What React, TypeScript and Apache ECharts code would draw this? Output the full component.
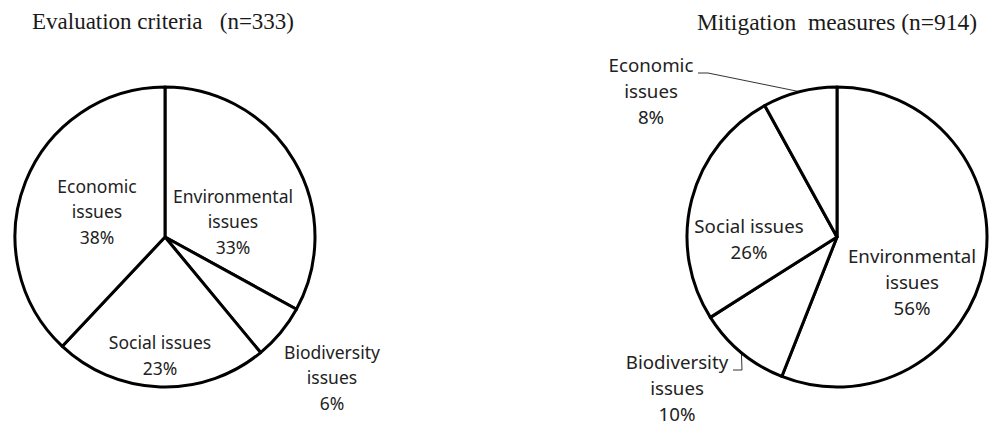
import React, { useEffect, useRef } from "react";
import * as echarts from "echarts";

const LEFT_TITLE = "Evaluation criteria\u00a0\u00a0\u00a0(n=333)";
const RIGHT_TITLE = "Mitigation\u00a0 measures (n=914)";

const LEFT_CATEGORIES = ["Environmental\nissues", "Biodiversity\nissues", "Social issues", "Economic\nissues"];
const LEFT_VALUES = [33, 6, 23, 38];

const RIGHT_CATEGORIES = ["Environmental\nissues", "Biodiversity\nissues", "Social issues", "Economic\nissues"];
const RIGHT_VALUES = [56, 10, 26, 8];

// layout constants (pixels)
const LEFT_CENTER = [165, 237];
const RIGHT_CENTER = [837, 237];
const RADIUS = 150;
const LEFT_LABEL_OFFSETS = [[68, -16], [167, 140], [-5, 118], [-68, -26]];
const RIGHT_LABEL_OFFSETS = [[75, 44], [-160, 150], [-88, 1], [-186, -147]];
const RIGHT_OUTSIDE = [false, true, false, true];
// leader line points near label, relative to pie centre
const RIGHT_LEADERS: Record<number, number[][]> = {
  1: [[-104, 133], [-95, 133]],
  3: [[-139, -164], [-129, -164]],
};

function midEdgePoint(values: number[], idx: number, center: number[], r: number) {
  const total = values.reduce((a, b) => a + b, 0);
  let before = 0;
  for (let i = 0; i < idx; i++) before += values[i];
  const mid = ((before + values[idx] / 2) / total) * Math.PI * 2;
  return [center[0] + r * Math.sin(mid), center[1] - r * Math.cos(mid)];
}

export default function App() {
  const ref = useRef<HTMLDivElement>(null);
  useEffect(() => {
    document.body.style.margin = "0";
    if (!ref.current) return;
    const chart = echarts.init(ref.current, undefined, { renderer: "svg" });
    const baseItem = { color: "#ffffff", borderColor: "#000000", borderWidth: 3 };
    const titleStyle = { fontFamily: "Liberation Serif", fontWeight: "normal" as const, color: "#1a1a1a" };
    chart.setOption({
      animation: false,
      backgroundColor: "#ffffff",
      title: [
        { text: LEFT_TITLE, left: 158, top: 5, textAlign: "center", textStyle: { ...titleStyle, fontSize: 23 } },
        { text: RIGHT_TITLE, left: 832, top: 5, textAlign: "center", textStyle: { ...titleStyle, fontSize: 23.5 } },
      ],
      series: [
        {
          type: "pie",
          center: LEFT_CENTER,
          radius: RADIUS,
          startAngle: 90,
          clockwise: true,
          avoidLabelOverlap: false,
          itemStyle: baseItem,
          emphasis: { disabled: true },
          label: {
            show: true,
            position: "inside",
            formatter: "{b}\n{c}%",
            fontFamily: "Noto Sans",
            fontSize: 17.5,
            lineHeight: 25.5,
            color: "#222222",
          },
          labelLine: { show: false },
          labelLayout: (p: any) => {
            const o = LEFT_LABEL_OFFSETS[p.dataIndex];
            return { x: LEFT_CENTER[0] + o[0], y: LEFT_CENTER[1] + o[1], align: "center", verticalAlign: "middle" };
          },
          data: LEFT_CATEGORIES.map((n, i) => ({ name: n, value: LEFT_VALUES[i] })),
        },
        {
          type: "pie",
          center: RIGHT_CENTER,
          radius: RADIUS,
          startAngle: 90,
          clockwise: true,
          avoidLabelOverlap: false,
          itemStyle: baseItem,
          emphasis: { disabled: true },
          label: {
            show: true,
            position: "inside",
            formatter: "{b}\n{c}%",
            fontFamily: "Noto Sans",
            fontSize: 18.7,
            lineHeight: 26,
            color: "#222222",
          },
          labelLine: { show: false },
          labelLayout: (p: any) => {
            const i = p.dataIndex;
            const o = RIGHT_LABEL_OFFSETS[i];
            const res: any = {
              x: RIGHT_CENTER[0] + o[0],
              y: RIGHT_CENTER[1] + o[1],
              align: "center",
              verticalAlign: "middle",
            };
            if (RIGHT_LEADERS[i]) {
              const pts = RIGHT_LEADERS[i].map((q) => [RIGHT_CENTER[0] + q[0], RIGHT_CENTER[1] + q[1]]);
              pts.push(midEdgePoint(RIGHT_VALUES, i, RIGHT_CENTER, RADIUS));
              res.labelLinePoints = pts;
            }
            return res;
          },
          data: RIGHT_CATEGORIES.map((n, i) => ({
            name: n,
            value: RIGHT_VALUES[i],
            label: { position: RIGHT_OUTSIDE[i] ? "outside" : "inside" },
            labelLine: RIGHT_OUTSIDE[i]
              ? { show: true, smooth: false, length: 10, length2: 10, lineStyle: { color: "#333333", width: 1 } }
              : { show: false },
          })),
        },
      ],
    });
    return () => chart.dispose();
  }, []);
  return <div ref={ref} style={{ width: 989, height: 425 }} />;
}
